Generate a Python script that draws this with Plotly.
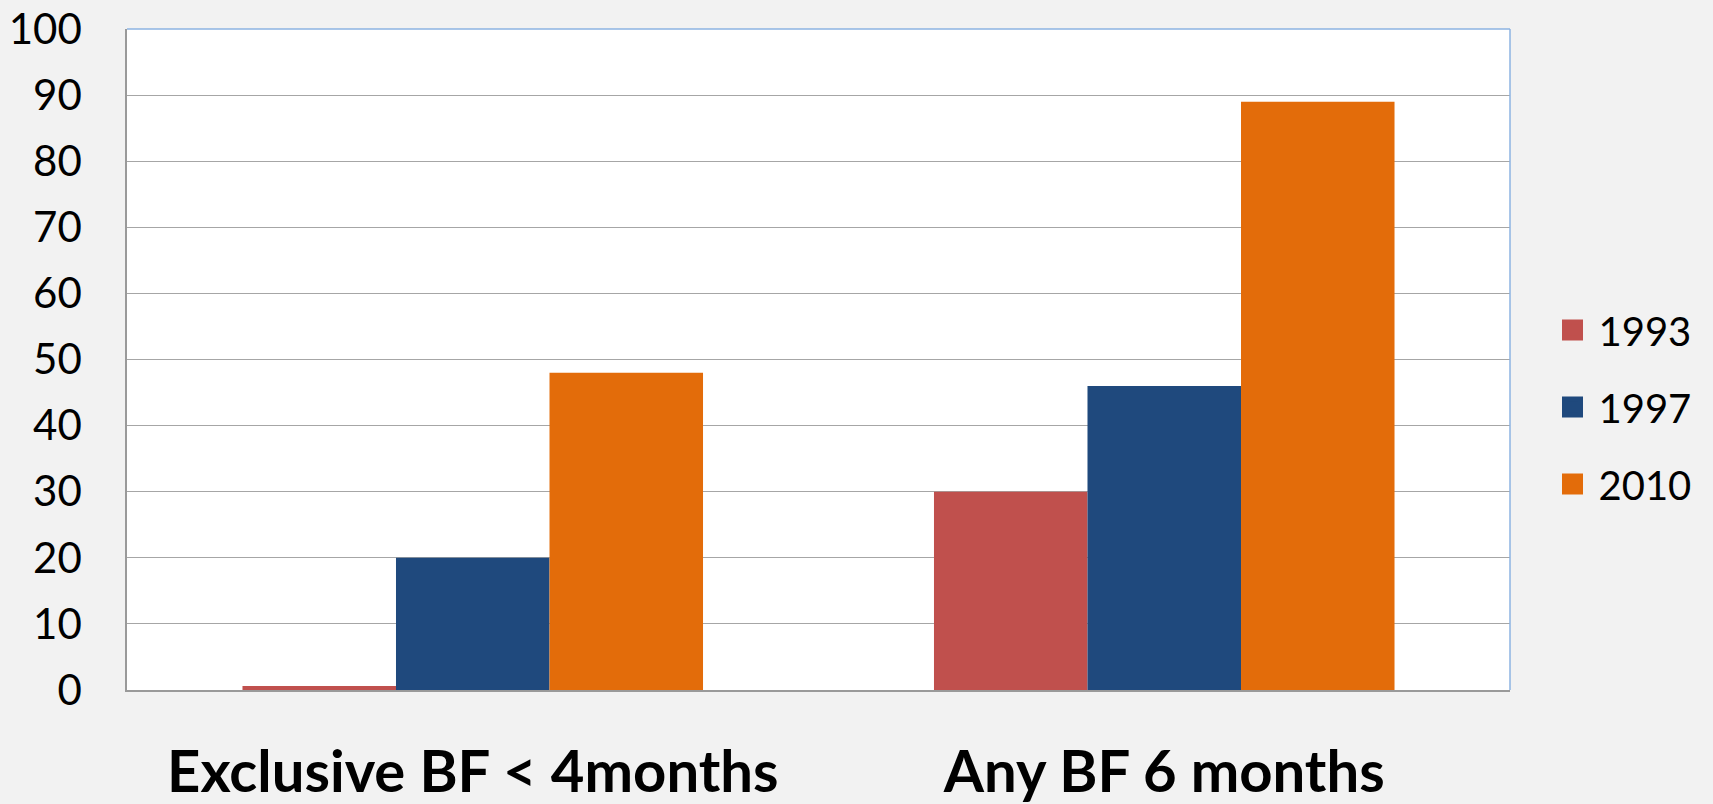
import plotly.graph_objects as go

categories = ["Exclusive BF < 4months", "Any BF 6 months"]
years = ["1993", "1997", "2010"]
values_1993 = [0.6, 30]
values_1997 = [20, 46]
values_2010 = [48, 89]
colors = ["#c0504d", "#1f497d", "#e36c0a"]
y_ticks = [0, 10, 20, 30, 40, 50, 60, 70, 80, 90, 100]

series = [values_1993, values_1997, values_2010]

fig = go.Figure()
for name, vals, col in zip(years, series, colors):
    fig.add_trace(go.Bar(x=categories, y=vals, name=name, marker=dict(color=col, line=dict(width=0)),
                         showlegend=False, legendgroup=name))
for name, col in zip(years, colors):
    fig.add_trace(go.Scatter(x=[None], y=[None], mode="markers", name=name, legendgroup=name,
                             marker=dict(symbol="square", size=16, color=col, line=dict(color=col, width=5))))

fig.update_layout(
    width=1713, height=804,
    margin=dict(l=127, r=203, t=29, b=114),
    paper_bgcolor="#f2f2f2",
    plot_bgcolor="#ffffff",
    barmode="group", bargap=0.334, bargroupgap=0,
    font=dict(family="Lato", color="#000000"),
    legend=dict(x=1.0264, y=0.428, xanchor="left", yanchor="middle", itemwidth=42,
                font=dict(size=40, family="Lato"), traceorder="grouped", tracegroupgap=22,
                bgcolor="rgba(0,0,0,0)"),
    xaxis=dict(showline=True, linecolor="#9a9a9a", linewidth=1.5, ticks="", showgrid=False,
               tickfont=dict(size=58, family="Lato", color="#000000", weight="bold"),
               ticklabelstandoff=31, fixedrange=True, automargin=False),
    yaxis=dict(range=[0, 100], tickvals=y_ticks, showline=True, linecolor="#9a9a9a", linewidth=1.5,
               gridcolor="#a6a6a6", gridwidth=1.2, zeroline=False, ticks="",
               tickfont=dict(size=42, family="Lato", color="#000000"),
               ticklabelstandoff=35, fixedrange=True, automargin=False),
    shapes=[
        dict(type="line", xref="paper", yref="paper", x0=0, x1=1, y0=1, y1=1,
             line=dict(color="#8db3e2", width=1.5)),
        dict(type="line", xref="paper", yref="paper", x0=1, x1=1, y0=0, y1=1,
             line=dict(color="#8db3e2", width=1.5)),
    ],
)

fig.write_html("out.html", config={"displayModeBar": False},
               post_script="document.body.style.margin='0';document.body.style.overflow='hidden';")
